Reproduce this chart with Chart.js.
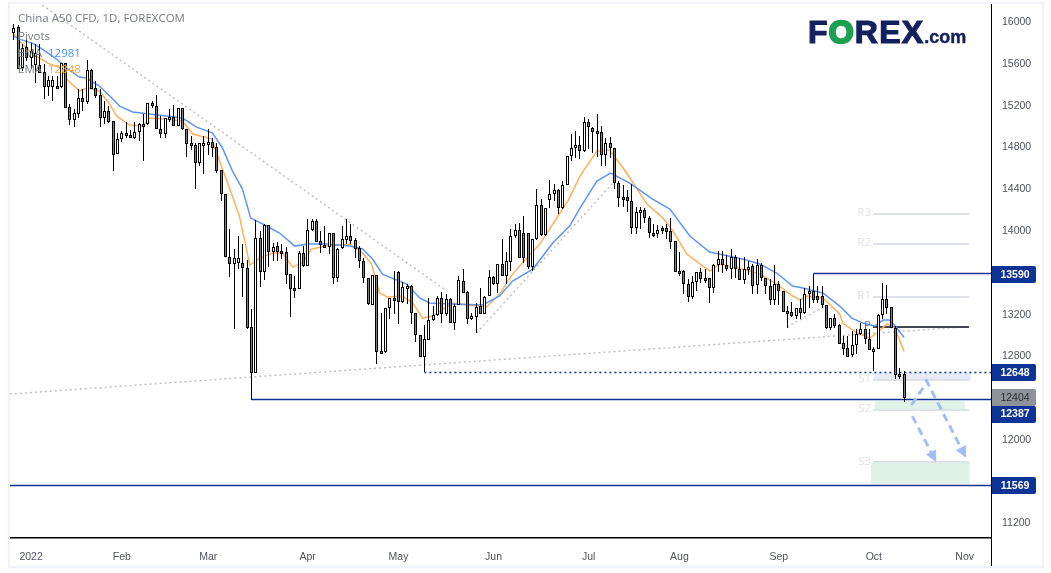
<!DOCTYPE html>
<html lang="en">
<head>
<meta charset="UTF-8">
<title>China A50 CFD, 1D</title>
<style>
    html, body { margin: 0; padding: 0; background: #fff; }
    #chart { position: absolute; left: 0; top: 0; }
    .frame { position: absolute; left: 8px; top: 2px; width: 1032px; height: 562px; border: 2px solid #f0f3fa; }
    .legend { position: absolute; left: 18px; font: 11.5px "Open Sans", sans-serif; color: #787b86; white-space: nowrap; }
    .legend span { position: absolute; left: 30px; font-size: 11.5px; }
    .logo { position: absolute; left: 808px; top: 14px; font: bold 32px "Liberation Sans", sans-serif; color: #13225f; white-space: nowrap; -webkit-text-stroke: 1.2px #13225f; letter-spacing: 1.2px; }
    .logo i { font-style: normal; color: #1d9f50; -webkit-text-stroke: 2.4px #1d9f50; }
    .logo small { font-size: 18px; letter-spacing: 0; -webkit-text-stroke: 0.4px #13225f; margin-left: 0; }
</style>
</head>
<body>
<canvas id="chart" width="1051" height="573"></canvas>
<div class="frame"></div>
<div class="legend" style="top:10px">China A50 CFD, 1D, FOREXCOM</div>
<div class="legend" style="top:28px">Pivots</div>
<div class="legend" style="top:45px">EMA<span style="color:#4d90f5;top:0">12981</span></div>
<div class="legend" style="top:61px">EMA<span style="color:#ffa640;top:0">12848</span></div>
<div class="logo">F<i>O</i>REX<small>.com</small></div>

<script src="https://cdn.jsdelivr.net/npm/chart.js"></script>
<script>
// daily candles
var opens = [
    15892,15952,15563,15761,15659,15589,15589,15522,15381,15381,
    15388,15378,15604,15187,15065,15123,15270,15238,15537,15365,
    15298,15085,15148,15053,14734,14877,14935,14915,14893,14951,
    15021,15021,15222,15193,14973,14931,15078,15094,15005,15174,
    14973,14839,14823,14654,14823,14823,14852,14804,14581,14351,
    13755,13681,13691,13691,13649,13081,12638,13929,13610,14057,
    13802,13856,13808,13799,13585,13457,13448,13786,13665,14006,
    14095,13901,13865,13850,13977,13553,13840,13913,13952,13910,
    13834,13712,13546,13291,13575,12851,12845,13259,13362,13610,
    13323,13464,13476,13212,13004,12797,12960,13145,13192,13355,
    13202,13346,13122,13291,13521,13416,13154,13180,13282,13208,
    13377,13562,13489,13681,13569,13706,13952,14006,13978,13978,
    13659,13920,14246,13958,14297,14351,14392,14217,14437,14714,
    14791,14820,14762,15040,14989,14954,14951,14724,14845,14791,
    14462,14322,14322,14287,14025,14185,14198,14121,13978,13968,
    14025,14025,14000,13904,13617,13617,13490,13372,13512,13608,
    13547,13547,13458,13671,13729,13671,13640,13751,13633,13531,
    13633,13665,13480,13671,13547,13474,13340,13490,13426,13231,
    13225,13190,13266,13212,13394,13426,13378,13378,13292,13075,
    13164,13100,12925,12877,12813,12906,13011,13059,12963,12858,
    12874,13196,13346,13273,13075,12628,12628
];
var highs = [
    15978,15971,15786,15834,15802,15786,15786,15595,15483,15483,
    15483,15611,15611,15212,15164,15356,15356,15633,15547,15435,
    15356,15244,15196,15053,14941,14957,15046,14963,15046,15037,
    15116,15228,15244,15298,15100,15085,15164,15206,15174,15174,
    14973,14909,14845,14845,14909,14973,14893,14845,14581,14351,
    14016,13825,13952,13873,13723,13250,14102,13999,14063,14057,
    13888,13897,13872,13846,13585,13569,13808,13856,14111,14111,
    14111,13999,14047,13984,13984,13840,14047,14111,14070,13936,
    13856,13744,13553,13575,13575,13212,13266,13362,13617,13617,
    13511,13489,13483,13218,13004,13100,13355,13282,13377,13419,
    13393,13355,13298,13569,13633,13425,13218,13314,13451,13377,
    13623,13569,13687,13920,13802,14016,14064,14080,14143,13984,
    13927,14399,14303,14217,14488,14447,14399,14478,14718,14925,
    14957,14909,15091,15069,14995,15116,15005,14887,14899,14791,
    14478,14440,14389,14447,14230,14230,14223,14143,14070,14057,
    14048,14064,14127,13904,13800,13624,13537,13569,13611,13643,
    13633,13553,13681,13809,13809,13770,13825,13770,13745,13751,
    13713,13681,13729,13697,13553,13537,13675,13522,13426,13282,
    13324,13266,13346,13451,13474,13590,13474,13474,13292,13170,
    13209,13107,12995,12995,13043,13059,13123,13123,13059,12890,
    13209,13505,13483,13273,13091,12692,12660
];
var lows = [
    15825,15547,15531,15627,15547,15419,15515,15266,15292,15244,
    15378,15372,15180,15014,14998,15085,15148,15212,15356,15276,
    14998,15021,15030,14574,14734,14855,14887,14887,14877,14861,
    14670,15014,15180,14973,14893,14893,15046,15005,15005,14963,
    14711,14772,14399,14622,14549,14727,14708,14558,14287,13755,
    13563,13065,13633,13372,13059,12387,12638,13464,13531,13658,
    13712,13712,13728,13489,13176,13362,13448,13658,13665,13999,
    13894,13792,13840,13776,13489,13515,13824,13878,13872,13738,
    13642,13505,13291,13291,12723,12835,12835,13154,13202,13106,
    13314,13304,13106,12940,12794,12648,12953,13138,13186,13122,
    13186,13122,13052,13291,13409,13106,13145,13027,13208,13202,
    13377,13483,13409,13569,13489,13617,13930,13745,13697,13633,
    13617,13914,13952,13952,14217,14287,14166,14207,14437,14670,
    14695,14686,14759,14781,14750,14708,14622,14622,14702,14399,
    14230,14230,14182,13968,13974,14016,14080,13936,13942,13936,
    13968,13920,13824,13611,13569,13394,13324,13346,13426,13506,
    13506,13314,13403,13611,13601,13617,13537,13553,13531,13490,
    13576,13394,13394,13522,13394,13292,13292,13292,13225,13075,
    13177,13155,13155,13202,13260,13314,13314,13266,13059,13049,
    13075,12915,12813,12797,12794,12820,13005,12915,12858,12660,
    12867,13155,13202,13075,12580,12580,12360
];
var closes = [
    15946,15553,15754,15659,15723,15707,15515,15381,15445,15445,
    15381,15604,15180,15065,15126,15270,15238,15537,15362,15295,
    15085,15148,15046,14727,14877,14935,14915,14893,14951,15021,
    15014,15222,15193,14973,14931,15078,15094,15005,15174,14973,
    14836,14823,14654,14839,14845,14852,14797,14574,14351,13755,
    13681,13745,13745,13649,13075,12638,13930,13610,14057,13802,
    13850,13802,13792,13578,13441,13441,13786,13665,14006,14095,
    13897,13862,13850,13977,13553,13830,13920,13952,13904,13830,
    13712,13546,13298,13575,12845,12845,13259,13355,13355,13323,
    13464,13476,13212,13001,12794,12963,13145,13196,13355,13202,
    13346,13122,13282,13527,13409,13154,13186,13275,13208,13371,
    13562,13489,13680,13569,13713,13952,14006,13745,13745,13659,
    13920,14246,13958,14217,14351,14392,14217,14437,14718,14791,
    14820,14766,15040,14992,14951,14951,14724,14845,14791,14462,
    14312,14309,14287,14025,14185,14201,14121,13978,13968,14006,
    14006,13994,13898,13611,13611,13490,13372,13512,13608,13544,
    13544,13458,13671,13729,13671,13640,13751,13633,13531,13633,
    13659,13474,13671,13547,13474,13340,13490,13426,13228,13225,
    13190,13266,13212,13394,13426,13340,13336,13289,13075,13164,
    13091,12922,12874,12797,12906,13011,13059,12963,12858,12874,
    13196,13346,13266,13075,12619,12619,12404
];

// EMA lines, sampled at the bends
var blueIdx = [0,1.3,4.3,6.6,9.9,12.2,15.2,16.8,19.8,22.2,24.5,27.5,31.4,35.3,39,42.3,46,48.3,50.6,52.9,54.8,57.6,61.5,65,68,72.4,77.7,80.7,83,85.3,90.9,93.9,96.2,101.6,108.5,112.4,115.4,120.1,124.7,128.6,131,134.9,138.1,142.5,147.8,151.8,156.4,161,168.6,172.6,176.5,180.2,182.6,187.2,191.1,193.9,196.5,199.2,201.1,202.7,204.3,206];
var blueEma = [15866,15837,15799,15742,15646,15560,15474,15464,15388,15292,15196,15139,15120,15100,15081,14995,14938,14794,14574,14402,14124,14067,13981,13856,13875,13875,13856,13828,13732,13588,13493,13359,13311,13301,13292,13378,13521,13636,13885,14048,14220,14478,14555,14459,14306,14210,13952,13799,13732,13684,13598,13474,13454,13407,13282,13167,13119,13091,13148,13148,13072,12981];
var orangeIdx = [0,1.3,3.6,5.9,8.3,11,12.2,15.2,17,19.8,22.2,23.8,26.8,29.8,31.4,35.3,39,41.4,45.8,47.6,49.9,52.2,54.6,56.9,59.9,62.2,64.5,66.8,68.9,72.4,77.7,80.7,82.8,84.6,86.5,89.9,92.3,94.6,96.9,101.6,103.1,109.4,112.4,115.4,118.7,121.7,125.2,128.2,131,134.9,137.9,141.8,146.5,150.2,152.5,155.7,161,163.3,168.6,172.6,176.5,180.2,181.9,183.5,187.2,191.1,191.8,195.1,198.1,199.7,202,203.8,206];
var orangeEma = [15885,15818,15722,15656,15598,15560,15455,15340,15368,15340,15215,15100,15014,15005,15081,15072,15053,14928,14880,14670,14411,14143,13675,13741,13789,13789,13655,13694,13828,13856,13875,13789,13684,13407,13368,13378,13311,13167,13186,13311,13301,13273,13397,13588,13741,13875,14096,14287,14526,14765,14775,14555,14258,14124,14000,13780,13617,13684,13636,13588,13493,13378,13340,13378,13359,13206,13119,13024,12976,13024,13110,13072,12848];

// axes
var yTicks = [11200,11600,12000,12400,12800,13200,13600,14000,14400,14800,15200,15600,16000];
var monthIdx = [4,25,45,68,89,111,133,154,177,199,220];
var monthNames = ['2022','Feb','Mar','Apr','May','Jun','Jul','Aug','Sep','Oct','Nov'];

// price levels: value, first candle
var levelValues = [13590,12648,12387,11569];
var levelStarts = [185,95,55,-0.9];
var levelDashes = [[],[2,3],[],[]];

// price tags on the axis
var tagValues = [13590,12648,12404,12387,11569];
var tagShift = [0,0,-1,14,0];

// floor trader pivots
var pivotNames = ['R3','R2','R1','P','S1','S2','S3'];
var pivotValues = [14163,13875,13368,13081,12574,12287,11780];
var pivotFrom = 198.8;
var pivotTo = 221;

// shaded zones
var zoneFrom = [199,199.2,198.3];
var zoneTo = [221.5,220.1,221.2];
var zoneTop = [12641,12373,11780];
var zoneBottom = [12574,12287,11579];
var zoneColors = ['#e8ebf7','#e1f3e6','#e1f3e6'];

// dotted trend lines
var trendX0 = [6.6,-0.9,107.1,178.9];
var trendY0 = [16163,12440,13024,13081];
var trendX1 = [100.2,219.6,138.6,187.7];
var trendY1 = [13426,13081,14459,13282];

// projected path
var arrowX0 = [207.7,211,207.9];
var arrowY0 = [12335,12581,12229];
var arrowX1 = [210.4,220,213.1];
var arrowY1 = [12500,11856,11815];
var arrowHead = [false,true,true];

var navy = '#0e3397';
var axisFont = { family: '"Liberation Sans", sans-serif', size: 10.5 };
var datasets = [];

function addLine(x0, y0, x1, y1, color, width, dash, order, snap) {
    datasets.push({
        type: 'line',
        data: [{x: x0, y: y0}, {x: x1, y: y1}],
        borderColor: color,
        borderWidth: width,
        borderDash: dash,
        pointRadius: 0,
        order: order,
        snap: snap
    });
}

// bodies sit on wicks, wicks on the EMAs
datasets.push({
    type: 'bar',
    data: opens.map(function(o, i) { return {x: i, y: [o, closes[i]]}; }),
    backgroundColor: opens.map(function(o, i) { return closes[i] >= o ? '#ffffff' : '#808080'; }),
    borderColor: '#000',
    borderWidth: 1,
    borderSkipped: false,
    inflateAmount: 0,
    barThickness: 3,
    grouped: false,
    order: 1,
    candle: true
});
datasets.push({
    type: 'bar',
    data: highs.map(function(h, i) { return {x: i, y: [lows[i], h]}; }),
    backgroundColor: '#000',
    borderWidth: 0,
    inflateAmount: 0,
    barThickness: 1,
    grouped: false,
    order: 2,
    candle: true
});
datasets.push({
    type: 'line',
    data: blueEma.map(function(v, i) { return {x: blueIdx[i], y: v}; }),
    borderColor: '#5b96f7',
    borderWidth: 1.5,
    pointRadius: 0,
    order: 3
});
datasets.push({
    type: 'line',
    data: orangeEma.map(function(v, i) { return {x: orangeIdx[i], y: v}; }),
    borderColor: '#ffb05c',
    borderWidth: 1.5,
    pointRadius: 0,
    order: 3
});

var xMin = -0.88, xMax = 226.1;

levelValues.forEach(function(v, i) {
    addLine(levelStarts[i], v, xMax, v, navy, 1.4, levelDashes[i], 4, 0.5);
});
pivotValues.forEach(function(v, i) {
    addLine(pivotFrom, v, pivotTo, v, pivotNames[i] === 'P' ? '#434651' : '#dfe1e8', 2, [], 5, 0);
});
trendX0.forEach(function(x, i) {
    addLine(x, trendY0[i], trendX1[i], trendY1[i], '#bdbdbd', 1.4, [2, 3], 6);
});
arrowX0.forEach(function(x, i) {
    addLine(x, arrowY0[i], arrowX1[i], arrowY1[i], '#a4bdf7', 3, [8, 5], 0);
});

var overlays = {
    id: 'overlays',
    // candles and level lines land on whole pixels
    afterDatasetsUpdate: function(chart) {
        chart.data.datasets.forEach(function(ds, n) {
            var points = chart.getDatasetMeta(n).data;
            if (ds.candle) {
                points.forEach(function(el) {
                    el.x = Math.floor(el.x) + 0.5;
                    var top = Math.round(Math.min(el.y, el.base));
                    var bottom = Math.round(Math.max(el.y, el.base));
                    if (ds.borderWidth && bottom - top < 3) bottom = top + 3;
                    el.y = top;
                    el.base = bottom;
                    el.height = bottom - top;
                });
            } else if (ds.snap !== undefined) {
                points.forEach(function(el) { el.y = Math.floor(el.y) + ds.snap; });
            }
        });
    },
    beforeDatasetsDraw: function(chart) {
        var c = chart.ctx, xs = chart.scales.x, ys = chart.scales.y;
        zoneFrom.forEach(function(x, i) {
            var left = xs.getPixelForValue(x), top = ys.getPixelForValue(zoneTop[i]);
            c.fillStyle = zoneColors[i];
            c.fillRect(left, top, xs.getPixelForValue(zoneTo[i]) - left, ys.getPixelForValue(zoneBottom[i]) - top);
        });
    },
    afterDatasetsDraw: function(chart) {
        var c = chart.ctx, xs = chart.scales.x, ys = chart.scales.y;
        // price axis line runs on through the date row
        c.fillStyle = '#000';
        c.fillRect(Math.round(xs.right), ys.bottom, 1, 566 - ys.bottom);
        // pivot names
        c.font = '11.5px "Open Sans", sans-serif';
        c.textAlign = 'right';
        c.textBaseline = 'middle';
        pivotNames.forEach(function(name, i) {
            c.fillStyle = name === 'P' ? '#787b86' : '#dfe1e8';
            c.fillText(name, xs.getPixelForValue(pivotFrom) - 2, ys.getPixelForValue(pivotValues[i]) - 1);
        });
        // arrow heads
        c.fillStyle = '#a4bdf7';
        arrowX0.forEach(function(x, i) {
            if (!arrowHead[i]) return;
            var x0 = xs.getPixelForValue(x), y0 = ys.getPixelForValue(arrowY0[i]);
            var x1 = xs.getPixelForValue(arrowX1[i]), y1 = ys.getPixelForValue(arrowY1[i]);
            var a = Math.atan2(y1 - y0, x1 - x0);
            c.beginPath();
            c.moveTo(x1 + 3 * Math.cos(a), y1 + 3 * Math.sin(a));
            c.lineTo(x1 - 10 * Math.cos(a - 0.6), y1 - 10 * Math.sin(a - 0.6));
            c.lineTo(x1 - 10 * Math.cos(a + 0.6), y1 - 10 * Math.sin(a + 0.6));
            c.closePath();
            c.fill();
        });
        // price tags on the axis
        c.textAlign = 'center';
        tagValues.forEach(function(v, i) {
            var y = ys.getPixelForValue(v) + tagShift[i];
            var grey = v === 12404;
            c.fillStyle = grey ? '#8f9299' : navy;
            c.beginPath();
            c.roundRect(Math.round(xs.right) + 1, Math.round(y) - 8, 44, 17, [0, 2, 2, 0]);
            c.fill();
            c.fillStyle = grey ? '#2a2e39' : '#fff';
            c.font = (grey ? '' : 'bold ') + '10.5px "Liberation Sans", sans-serif';
            c.fillText(String(v), xs.right + 24, y + 1);
        });
    }
};

new Chart(document.getElementById('chart'), {
    type: 'bar',
    data: { datasets: datasets },
    plugins: [overlays],
    options: {
        responsive: false,
        animation: false,
        devicePixelRatio: 1,
        layout: { padding: { left: 10, top: 4, right: 8, bottom: 7 } },
        plugins: { legend: { display: false }, tooltip: { enabled: false } },
        scales: {
            x: {
                type: 'linear',
                offset: false,
                min: xMin,
                max: xMax,
                grid: { display: false },
                border: { color: '#000', width: 1.5 },
                afterBuildTicks: function(axis) {
                    axis.ticks = monthIdx.map(function(v) { return {value: v}; });
                },
                afterFit: function(axis) {
                    axis.height = 28;
                    axis.paddingLeft = 0;
                    axis.paddingRight = 0;
                },
                ticks: {
                    autoSkip: false,
                    maxRotation: 0,
                    color: '#50535e',
                    font: axisFont,
                    padding: 5,
                    callback: function(v) { return monthNames[monthIdx.indexOf(v)]; }
                }
            },
            y: {
                position: 'right',
                min: 11062,
                max: 16173,
                grid: { display: false },
                border: { color: '#000', width: 1 },
                afterBuildTicks: function(axis) {
                    axis.ticks = yTicks.map(function(v) { return {value: v}; });
                },
                afterFit: function(axis) {
                    axis.width = 52;
                    axis.paddingTop = 0;
                    axis.paddingBottom = 0;
                },
                ticks: {
                    color: '#50535e',
                    font: axisFont,
                    padding: 3,
                    callback: function(v) { return String(v); }
                }
            }
        }
    }
});
</script>
</body>
</html>
